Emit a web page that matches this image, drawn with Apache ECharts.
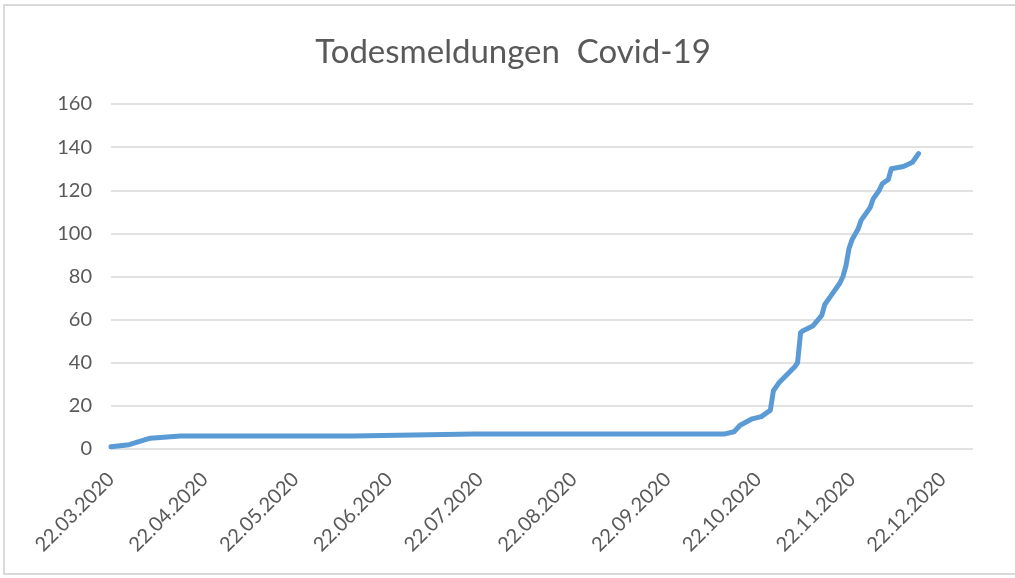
<!DOCTYPE html>
<html>
<head>
<meta charset="utf-8">
<script src="https://cdn.jsdelivr.net/npm/echarts@6/dist/echarts.min.js"></script>
<style>
  html, body { margin: 0; padding: 0; background: #fff; overflow: hidden; }
  #frame { position: absolute; left: 3px; top: 4px; width: 1030px; height: 571px; border: 2px solid #D9D9D9; box-sizing: border-box; }
  #chart { position: absolute; left: 0; top: 0; width: 1015px; height: 578px; }
</style>
</head>
<body>
<div id="frame"></div>
<div id="chart"></div>
<script>
const titleText = 'Todesmeldungen  Covid-19';
const dates = [
  '2020-03-22','2020-03-28','2020-04-04','2020-04-14','2020-04-23','2020-06-10','2020-07-20',
  '2020-10-11','2020-10-14','2020-10-16','2020-10-20','2020-10-23','2020-10-26','2020-10-27',
  '2020-10-29','2020-11-03','2020-11-04','2020-11-05','2020-11-06','2020-11-09','2020-11-12',
  '2020-11-13','2020-11-15','2020-11-18','2020-11-19','2020-11-20','2020-11-21','2020-11-22',
  '2020-11-24','2020-11-25','2020-11-28','2020-11-29','2020-12-01','2020-12-02','2020-12-04',
  '2020-12-05','2020-12-09','2020-12-12','2020-12-14'
];
const deaths = [
  1, 2, 5, 6, 6, 6, 7,
  7, 8, 11, 14, 15, 18, 27,
  31, 38, 40, 54, 55, 57, 62,
  67, 71, 77, 80, 85, 93, 97,
  102, 106, 112, 116, 120, 123, 125,
  130, 131, 133, 137
];
const tickDates = [
  '2020-03-22','2020-04-22','2020-05-22','2020-06-22','2020-07-22',
  '2020-08-22','2020-09-22','2020-10-22','2020-11-22','2020-12-22'
];
const axisMin = '2020-03-22';
const axisMax = '2021-01-01';
const yTicks = [0, 20, 40, 60, 80, 100, 120, 140, 160];

function parseD(s) { const p = s.split('-').map(Number); return new Date(p[0], p[1] - 1, p[2]).getTime(); }
function pad(n) { return (n < 10 ? '0' : '') + n; }
function fmt(v) { const d = new Date(v); return pad(d.getDate()) + '.' + pad(d.getMonth() + 1) + '.' + d.getFullYear(); }

const chart = echarts.init(document.getElementById('chart'), null, { renderer: 'canvas' });
const textColor = '#595959';
const font = 'Lato, "Open Sans", sans-serif';
chart.setOption({
  animation: false,
  backgroundColor: 'transparent',
  title: {
    text: titleText, left: 508, textAlign: 'center', top: 31,
    textStyle: { fontFamily: font, fontSize: 33, fontWeight: 'normal', color: textColor }
  },
  grid: { left: 111, right: 42, top: 104, bottom: 129, containLabel: false },
  xAxis: {
    type: 'value',
    min: parseD(axisMin), max: parseD(axisMax),
    axisLine: { show: false }, axisTick: { show: false }, splitLine: { show: false },
    axisLabel: {
      customValues: tickDates.map(parseD),
      formatter: fmt, rotate: 45, margin: 27,
      color: textColor, fontFamily: font, fontSize: 20, hideOverlap: false
    }
  },
  yAxis: {
    type: 'value', min: yTicks[0], max: yTicks[yTicks.length - 1], interval: 20,
    axisLine: { show: false }, axisTick: { show: false },
    splitLine: { lineStyle: { color: '#D9D9D9', width: 1.5 } },
    axisLabel: { margin: 19, color: textColor, fontFamily: font, fontSize: 20 }
  },
  series: [{
    type: 'line', showSymbol: false, symbol: 'none',
    lineStyle: { color: '#5B9BD5', width: 5, cap: 'round', join: 'round' },
    data: dates.map((d, i) => [parseD(d), deaths[i]])
  }]
});
</script>
</body>
</html>
